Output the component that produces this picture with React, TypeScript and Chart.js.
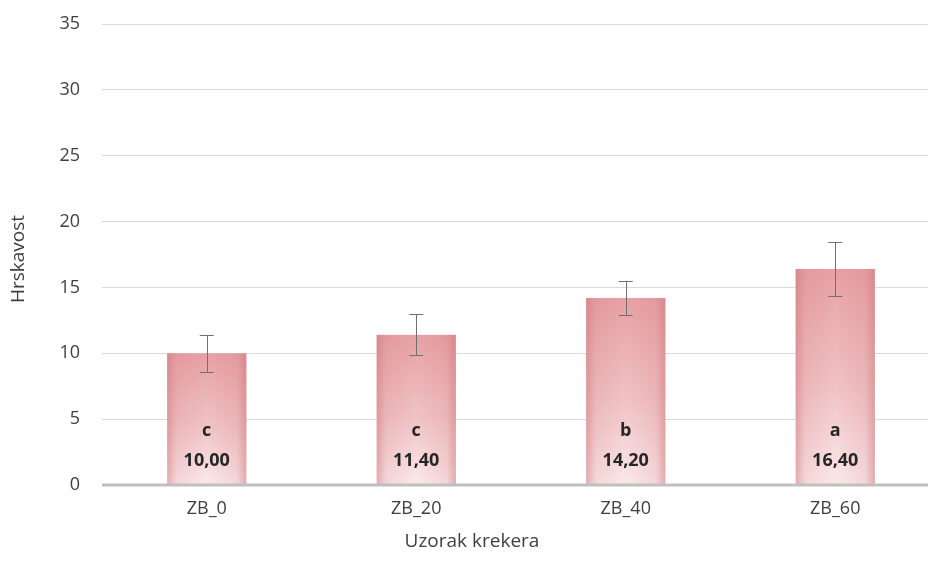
import React, { useEffect, useRef } from "react";
import { Chart, registerables } from "chart.js";

Chart.register(...registerables);

const categories = ["ZB_0", "ZB_20", "ZB_40", "ZB_60"];
const values = [10.0, 11.4, 14.2, 16.4];
const errors = [1.4, 1.55, 1.3, 2.05];
const letters = ["c", "c", "b", "a"];
const valueLabels = ["10,00", "11,40", "14,20", "16,40"];
const yTicks = [0, 5, 10, 15, 20, 25, 30, 35];

const FONT = "'Open Sans', 'Noto Sans', sans-serif";

const barPlugin = {
  id: "customBars",
  beforeDatasetsDraw(chart: any) {
    const ctx = chart.ctx;
    const meta = chart.getDatasetMeta(0);
    meta.data.forEach((el: any) => {
      const { x, y, base, width } = el.getProps(["x", "y", "base", "width"], true);
      const l = x - width / 2;
      const h = base - y;
      ctx.save();
      const vg = ctx.createLinearGradient(0, y, 0, base);
      vg.addColorStop(0, "#e7a1a4");
      vg.addColorStop(0.55, "#f0c3c5");
      vg.addColorStop(1, "#fbe9ea");
      ctx.fillStyle = vg;
      ctx.fillRect(l, y, width, h);
      const hg = ctx.createLinearGradient(l, 0, l + width, 0);
      hg.addColorStop(0, "rgba(205,110,115,0.5)");
      hg.addColorStop(0.12, "rgba(205,110,115,0.15)");
      hg.addColorStop(0.5, "rgba(205,110,115,0)");
      hg.addColorStop(0.88, "rgba(205,110,115,0.15)");
      hg.addColorStop(1, "rgba(205,110,115,0.5)");
      ctx.fillStyle = hg;
      ctx.fillRect(l, y, width, h);
      ctx.restore();
    });
  },
  afterDatasetsDraw(chart: any) {
    const ctx = chart.ctx;
    const meta = chart.getDatasetMeta(0);
    const ys = chart.scales.y;
    ctx.save();
    ctx.strokeStyle = "#bfbfbf";
    ctx.lineWidth = 3;
    ctx.beginPath();
    ctx.moveTo(chart.chartArea.left, ys.getPixelForValue(0));
    ctx.lineTo(chart.chartArea.right, ys.getPixelForValue(0));
    ctx.stroke();
    meta.data.forEach((el: any, i: number) => {
      const { x } = el.getProps(["x"], true);
      const top = ys.getPixelForValue(values[i] + errors[i]);
      const bot = ys.getPixelForValue(values[i] - errors[i]);
      ctx.strokeStyle = "#707070";
      ctx.lineWidth = 1;
      ctx.beginPath();
      ctx.moveTo(Math.round(x) + 0.5, top);
      ctx.lineTo(Math.round(x) + 0.5, bot);
      ctx.moveTo(x - 7, Math.round(top) + 0.5);
      ctx.lineTo(x + 7, Math.round(top) + 0.5);
      ctx.moveTo(x - 7, Math.round(bot) + 0.5);
      ctx.lineTo(x + 7, Math.round(bot) + 0.5);
      ctx.stroke();
      ctx.fillStyle = "#262626";
      ctx.textAlign = "center";
      ctx.textBaseline = "middle";
      ctx.font = `bold 18px ${FONT}`;
      ctx.fillText(letters[i], x, ys.getPixelForValue(0) - 54);
      ctx.font = `bold 18px ${FONT}`;
      ctx.fillText(valueLabels[i], x, ys.getPixelForValue(0) - 24);
    });
    ctx.fillStyle = "#404040";
    ctx.font = `19px ${FONT}`;
    ctx.textAlign = "center";
    ctx.textBaseline = "middle";
    ctx.fillText("Uzorak krekera", 472, 542);
    ctx.translate(19, 259);
    ctx.rotate(-Math.PI / 2);
    ctx.fillText("Hrskavost", 0, 0);
    ctx.restore();
  },
};

export default function App() {
  const ref = useRef<HTMLCanvasElement>(null);
  useEffect(() => {
    document.body.style.overflow = "hidden";
    const chart = new Chart(ref.current!, {
      type: "bar",
      data: {
        labels: categories,
        datasets: [
          {
            data: values,
            backgroundColor: "rgba(0,0,0,0)",
            borderWidth: 0,
            barPercentage: 0.378,
            categoryPercentage: 1,
          },
        ],
      },
      options: {
        animation: false,
        responsive: false,
        maintainAspectRatio: false,
        layout: { padding: { left: 0, right: 0, top: 24, bottom: 0 } },
        plugins: { legend: { display: false }, tooltip: { enabled: false } },
        scales: {
          x: {
            grid: { display: false },
            border: { display: false },
            ticks: {
              color: "#404040",
              font: { family: FONT, size: 18 },
              padding: 5,
            },
            afterFit(scale: any) {
              scale.height = 87;
            },
          },
          y: {
            min: 0,
            max: 35,
            afterBuildTicks(scale: any) {
              scale.ticks = yTicks.map((v) => ({ value: v }));
            },
            grid: {
              color: "#d9d9d9",
              lineWidth: 1,
              drawTicks: false,
            },
            border: { display: false },
            ticks: {
              color: "#404040",
              font: { family: FONT, size: 18 },
              padding: 22,
            },
            afterFit(scale: any) {
              scale.width = 102;
              scale.paddingTop = 0;
              scale.paddingBottom = 0;
            },
          },
        },
      },
      plugins: [barPlugin],
    });
    return () => chart.destroy();
  }, []);
  return (
    <div style={{ position: "fixed", left: 0, top: 0, width: 940, height: 572, overflow: "hidden" }}>
      <canvas ref={ref} width={940} height={572} style={{ width: 940, height: 572, display: "block" }} />
    </div>
  );
}
